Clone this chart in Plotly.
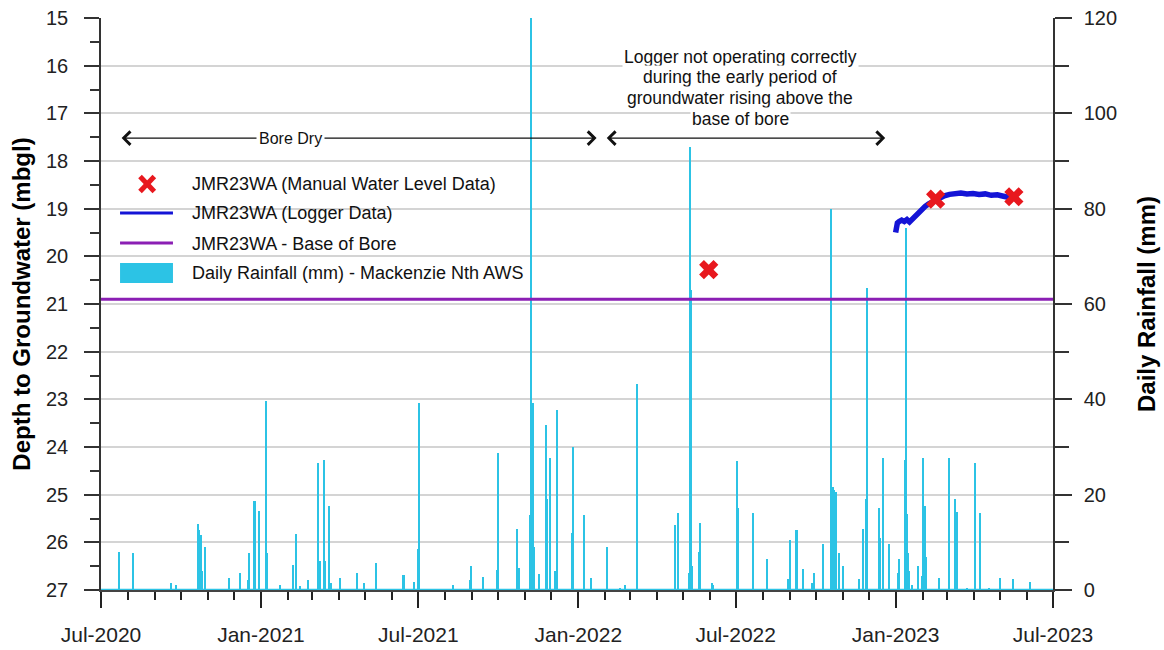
import plotly.graph_objects as go

# Daily rainfall, Mackenzie Nth AWS (mm) - rain days only
rain_dates = [
    "2020-07-22", "2020-08-07", "2020-09-19", "2020-09-25", "2020-10-21", "2020-10-22",
    "2020-10-24", "2020-10-25", "2020-10-29", "2020-11-25", "2020-12-08", "2020-12-17",
    "2020-12-18", "2020-12-25", "2020-12-30", "2021-01-07", "2021-01-08", "2021-01-23",
    "2021-02-07", "2021-02-10", "2021-02-15", "2021-02-24", "2021-03-08", "2021-03-10",
    "2021-03-14", "2021-03-15", "2021-03-16", "2021-03-20", "2021-03-23", "2021-04-02",
    "2021-04-22", "2021-04-30", "2021-05-13", "2021-06-13", "2021-06-15", "2021-06-26",
    "2021-07-01", "2021-07-02", "2021-08-10", "2021-08-29", "2021-08-31", "2021-09-13",
    "2021-09-30", "2021-10-01", "2021-10-22", "2021-10-23", "2021-10-25", "2021-11-07",
    "2021-11-08", "2021-11-10", "2021-11-11", "2021-11-17", "2021-11-25", "2021-11-26",
    "2021-11-29", "2021-11-30", "2021-12-05", "2021-12-07", "2021-12-25", "2021-12-26",
    "2022-01-07", "2022-01-16", "2022-02-03", "2022-02-18", "2022-02-24", "2022-03-10",
    "2022-04-22", "2022-04-26", "2022-05-08", "2022-05-10", "2022-05-11", "2022-05-12",
    "2022-05-20", "2022-05-21", "2022-06-04", "2022-06-05", "2022-07-02", "2022-07-03",
    "2022-07-04", "2022-07-21", "2022-08-06", "2022-08-30", "2022-09-02", "2022-09-09",
    "2022-09-17", "2022-09-27", "2022-09-29", "2022-10-09", "2022-10-19", "2022-10-21",
    "2022-10-22", "2022-10-24", "2022-10-28", "2022-11-01", "2022-11-20", "2022-11-24",
    "2022-11-28", "2022-11-29", "2022-12-13", "2022-12-14", "2022-12-17", "2022-12-24",
    "2023-01-04", "2023-01-05", "2023-01-12", "2023-01-13", "2023-01-14", "2023-01-15",
    "2023-01-16", "2023-01-20", "2023-01-27", "2023-01-31", "2023-02-01", "2023-02-04",
    "2023-02-05", "2023-02-20", "2023-03-03", "2023-03-10", "2023-03-12", "2023-03-13",
    "2023-03-24", "2023-04-02", "2023-04-08", "2023-04-18", "2023-05-01", "2023-05-16",
    "2023-06-05",
]
rain_mm = [
    8.0, 7.7, 1.5, 1.0, 13.8, 12.6,
    11.5, 4.0, 9.1, 2.6, 3.6, 2.0,
    7.7, 18.7, 16.6, 39.7, 7.7, 1.0,
    5.2, 11.7, 0.8, 2.0, 26.7, 6.0,
    26.7, 27.2, 6.0, 17.6, 1.5, 2.6,
    3.6, 1.5, 5.6, 3.1, 3.1, 1.7,
    8.5, 39.2, 1.0, 2.1, 5.1, 2.7,
    4.2, 28.7, 12.7, 8.0, 4.6, 15.7,
    120.0, 39.2, 9.0, 3.4, 34.6, 19.0,
    27.6, 11.5, 4.0, 37.8, 12.0, 30.1,
    15.7, 2.6, 9.1, 0.5, 1.0, 43.2,
    13.6, 16.1, 3.6, 93.0, 63.0, 5.0,
    8.0, 14.1, 1.5, 1.0, 27.1, 20.0,
    17.1, 16.1, 6.6, 2.4, 10.5, 12.6,
    4.5, 1.5, 3.6, 9.6, 80.0, 21.7,
    21.0, 20.6, 7.7, 5.1, 2.4, 12.7,
    19.0, 63.3, 17.1, 11.0, 27.6, 9.6,
    3.6, 6.5, 27.3, 76.0, 16.0, 7.7,
    4.0, 1.0, 5.1, 3.0, 27.6, 17.6,
    7.0, 2.6, 27.6, 19.0, 16.4, 3.6,
    0.5, 26.6, 16.1, 0.5, 2.6, 2.3,
    1.7,
]
# period covered by the rainfall record
rain_period = ["2020-07-01", "2023-07-01"]

# JMR23WA manual water level readings (m below ground level)
manual_dates = ["2022-05-31", "2023-02-16", "2023-05-17"]
manual_depth = [20.28, 18.80, 18.75]

# JMR23WA logger record (m below ground level)
logger_dates = [
    "2023-01-01", "2023-01-02", "2023-01-03", "2023-01-05", "2023-01-08", "2023-01-11",
    "2023-01-14", "2023-01-17", "2023-01-20", "2023-01-23", "2023-01-26", "2023-01-29",
    "2023-02-01", "2023-02-04", "2023-02-08", "2023-02-12", "2023-02-16", "2023-02-21",
    "2023-02-26", "2023-03-04", "2023-03-10", "2023-03-17", "2023-03-24", "2023-03-31",
    "2023-04-07", "2023-04-14", "2023-04-21", "2023-04-28", "2023-05-05", "2023-05-10",
    "2023-05-15",
]
logger_depth = [
    19.50, 19.40, 19.30, 19.27, 19.24, 19.27,
    19.23, 19.28, 19.22, 19.18, 19.12, 19.06,
    19.00, 18.95, 18.90, 18.86, 18.82, 18.77,
    18.73, 18.70, 18.68, 18.67, 18.69, 18.68,
    18.70, 18.69, 18.72, 18.71, 18.74, 18.76,
    18.78,
]

# JMR23WA base of bore (m below ground level)
base_of_bore = 20.9
base_period = ["2020-07-01", "2023-07-01"]

RAIN = "#2CC3E5"
BLUE = "#1414D6"
PURPLE = "#8B1FB4"
RED = "#E8181E"
FONT = "Liberation Sans, Arial, sans-serif"

fig = go.Figure()

# rainfall on the primary (right-hand) axis so the groundwater traces sit above it
fig.add_trace(go.Bar(
    x=rain_dates, y=rain_mm, yaxis="y",
    width=2.3 * 86400000, marker=dict(color=RAIN, line=dict(width=0)),
    name="Daily Rainfall (mm) - Mackenzie Nth AWS", showlegend=False,
))
fig.add_trace(go.Scatter(
    x=rain_period, y=[0, 0], yaxis="y", mode="lines",
    line=dict(color=RAIN, width=2.5), showlegend=False, hoverinfo="skip",
))

fig.add_trace(go.Scatter(
    x=base_period, y=[base_of_bore, base_of_bore], yaxis="y2", mode="lines",
    line=dict(color=PURPLE, width=3), name="JMR23WA - Base of Bore", showlegend=False,
))
fig.add_trace(go.Scatter(
    x=logger_dates, y=logger_depth, yaxis="y2", mode="lines",
    line=dict(color=BLUE, width=5.5), name="JMR23WA (Logger Data)", showlegend=False,
))
fig.add_trace(go.Scatter(
    x=manual_dates, y=manual_depth, yaxis="y2", mode="markers",
    marker=dict(symbol="x", size=17, color=RED, line=dict(width=0)),
    name="JMR23WA (Manual Water Level Data)", showlegend=False,
))

tickfont = dict(family=FONT, size=20, color="#222222")
titlefont = dict(family=FONT, size=24, color="#000000")

fig.update_layout(
    width=1164, height=650,
    margin=dict(l=101, r=111, t=18, b=60, autoexpand=False),
    paper_bgcolor="white", plot_bgcolor="white",
    showlegend=False, hovermode=False, bargap=0, barmode="overlay",
    xaxis=dict(
        type="date", range=["2020-07-01", "2023-07-01"], automargin=False,
        tick0="2020-07-01", dtick="M6", tickformat="%b-%Y",
        ticks="outside", ticklen=16, tickwidth=1.5, tickcolor="#222222",
        minor=dict(dtick="M1", ticks="outside", ticklen=8, tickwidth=1.5, tickcolor="#222222"),
        showgrid=False, showline=True, linecolor="#444444", linewidth=1.5,
        tickfont=dict(family=FONT, size=21, color="#222222"), ticklabelstandoff=9,
        zeroline=False,
    ),
    yaxis=dict(
        side="right", range=[0, 120], dtick=20, tick0=0, automargin=False,
        ticks="outside", ticklen=17, tickwidth=1.5, tickcolor="#333333",
        minor=dict(dtick=10, ticks="outside", ticklen=14, tickwidth=1.5, tickcolor="#333333"),
        showgrid=False, zeroline=False, showline=True, linecolor="#333333", linewidth=1.5,
        tickfont=tickfont, ticklabelstandoff=8,
        title=dict(text="<b>Daily Rainfall (mm)</b>", font=titlefont, standoff=22),
    ),
    yaxis2=dict(
        side="left", overlaying="y", range=[27, 15], dtick=1, tick0=15, automargin=False,
        ticks="outside", ticklen=15, tickwidth=1.5, tickcolor="#333333",
        minor=dict(dtick=0.5, ticks="outside", ticklen=9, tickwidth=1.5, tickcolor="#333333",
                   showgrid=False),
        showgrid=True, gridcolor="#D4D4D4", gridwidth=1.5,
        zeroline=False, showline=True, linecolor="#333333", linewidth=1.5,
        tickfont=tickfont, ticklabelstandoff=12,
        title=dict(text="<b>Depth to Groundwater (mbgl)</b>", font=titlefont, standoff=9),
    ),
)

# ---- in-plot key ----
key_shapes = [
    # manual reading cross
    dict(type="line", x0=0.0410, y0=0.7230, x1=0.0560, y1=0.6966, line=dict(color=RED, width=5)),
    dict(type="line", x0=0.0410, y0=0.6966, x1=0.0560, y1=0.7230, line=dict(color=RED, width=5)),
    # logger line
    dict(type="line", x0=0.0200, y0=0.6591, x1=0.0756, y1=0.6591, line=dict(color=BLUE, width=3)),
    # base of bore line
    dict(type="line", x0=0.0200, y0=0.6066, x1=0.0756, y1=0.6066, line=dict(color=PURPLE, width=3)),
    # rainfall swatch
    dict(type="rect", x0=0.0200, y0=0.5367, x1=0.0756, y1=0.5717, line=dict(width=0), fillcolor=RAIN),
]
for s in key_shapes:
    s.update(xref="paper", yref="paper", layer="above")
    fig.add_shape(**s)

key_labels = [
    ("JMR23WA (Manual Water Level Data)", 0.7098),
    ("JMR23WA (Logger Data)", 0.6591),
    ("JMR23WA - Base of Bore", 0.6049),
    ("Daily Rainfall (mm) - Mackenzie Nth AWS", 0.5542),
]
for text, yp in key_labels:
    fig.add_annotation(
        x=0.0935, y=yp, xref="paper", yref="paper", text=text, showarrow=False,
        xanchor="left", yanchor="middle", font=dict(family=FONT, size=18, color="#111111"),
    )

# ---- period notes with double-headed arrows ----
arrow_style = dict(showarrow=True, arrowside="end+start", arrowhead=4, arrowsize=2,
                   arrowwidth=1.3, arrowcolor="#111111", standoff=0, startstandoff=0,
                   startarrowhead=4, startarrowsize=2, text="")
fig.add_annotation(x="2022-01-22", y=17.52, ax="2020-07-23", ay=17.52,
                   xref="x", yref="y2", axref="x", ayref="y2", **arrow_style)
fig.add_annotation(x="2022-12-20", y=17.52, ax="2022-02-01", ay=17.52,
                   xref="x", yref="y2", axref="x", ayref="y2", **arrow_style)

fig.add_annotation(
    x="2021-02-04", y=17.52, xref="x", yref="y2", text="Bore Dry", showarrow=False,
    bgcolor="white", borderpad=2, font=dict(family=FONT, size=16, color="#111111"),
)

# multi-line note, one line per annotation for tight line spacing
note_lines = [
    ("Logger not operating correctly", 15.82),
    ("during the early period of", 16.24),
    ("groundwater rising above the", 16.68),
    ("base of bore", 17.11),
]
for text, yv in note_lines:
    fig.add_annotation(
        x="2022-07-06", y=yv, xref="x", yref="y2", text=text, showarrow=False,
        bgcolor="white", borderpad=1, font=dict(family=FONT, size=17.5, color="#111111"),
    )

fig.write_html("out.html", config={"displayModeBar": False})
